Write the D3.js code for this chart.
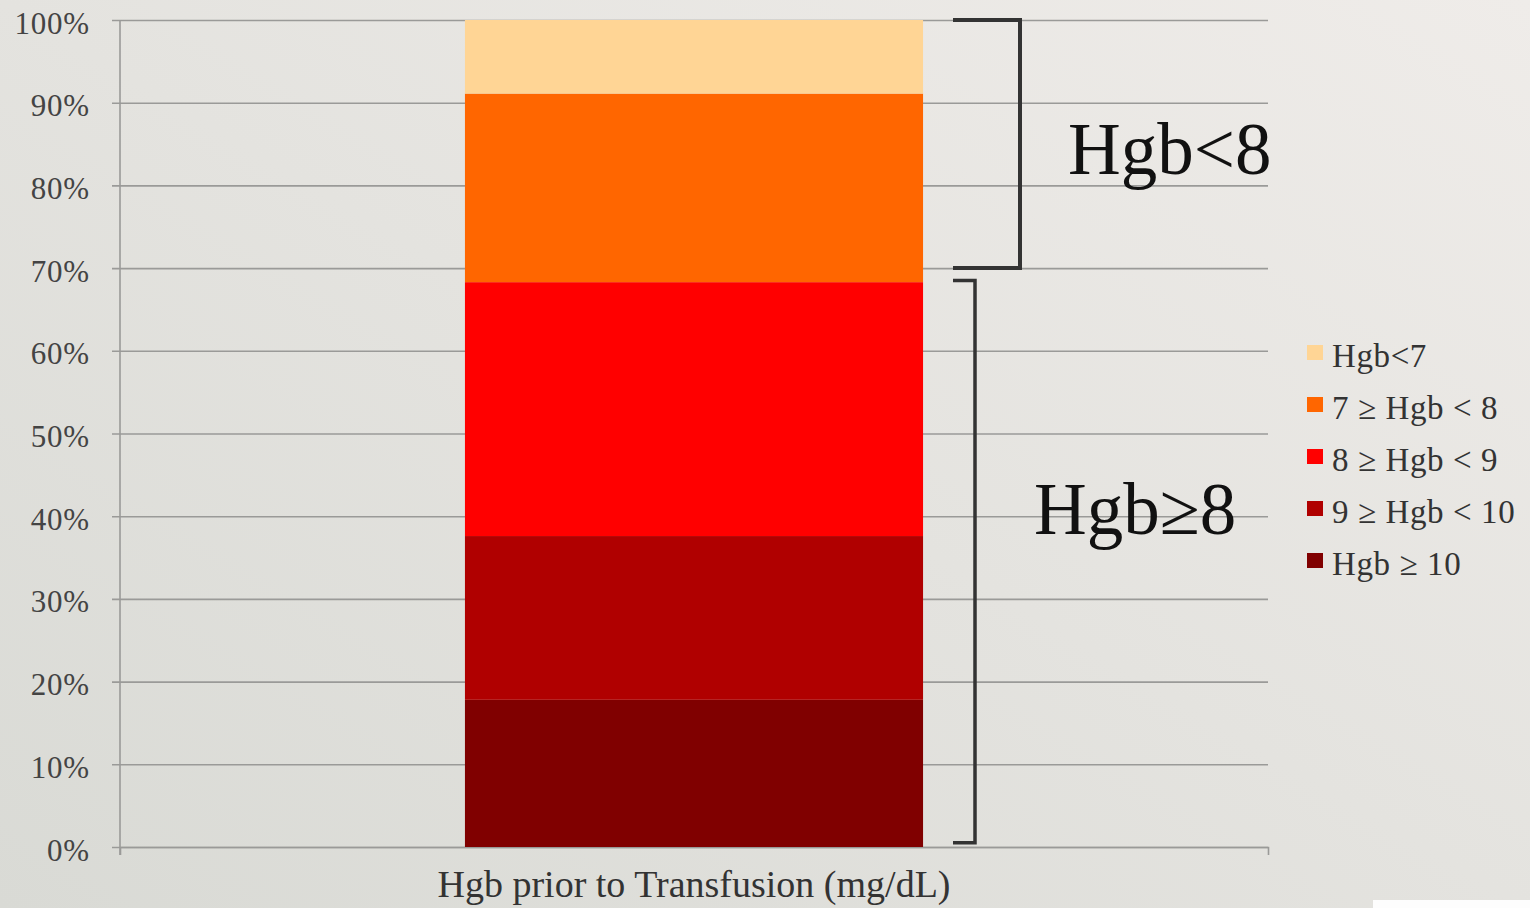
<!DOCTYPE html>
<html>
<head>
<meta charset="utf-8">
<script src="https://cdn.jsdelivr.net/npm/d3@7/dist/d3.min.js"></script>
<style>
  html, body { margin: 0; padding: 0; background: #e5e4e0; }
  svg { display: block; }
</style>
</head>
<body>
<svg id="chart" width="1530" height="908"></svg>
<script>
// Share of transfusions by pre-transfusion haemoglobin band (percent of total)
const categories = ["Hgb prior to Transfusion (mg/dL)"];
const seriesNames = ["Hgb ≥ 10", "9 ≥ Hgb < 10", "8 ≥ Hgb < 9", "7 ≥ Hgb < 8", "Hgb<7"];
const seriesValues = [17.8, 19.8, 30.7, 22.8, 8.9];
const seriesColors = ["#800000", "#b00000", "#ff0000", "#ff6600", "#ffd595"];
const yTicks = [0, 10, 20, 30, 40, 50, 60, 70, 80, 90, 100];
// Grouping brackets drawn to the right of the bar (percent range)
const groupLabels = ["Hgb<8", "Hgb≥8"];
const groupFrom = [70, 0.5];
const groupTo = [100, 68.5];

const svg = d3.select("#chart");
const W = 1530, H = 908;
const serif = "'Liberation Serif', 'DejaVu Serif', serif";

// Background
const defs = svg.append("defs");
const bg = defs.append("linearGradient").attr("id", "bg")
  .attr("x1", "0").attr("y1", "1").attr("x2", "1").attr("y2", "0");
bg.append("stop").attr("offset", "0%").attr("stop-color", "#d9dad5");
bg.append("stop").attr("offset", "50%").attr("stop-color", "#e4e3df");
bg.append("stop").attr("offset", "100%").attr("stop-color", "#efece9");
svg.append("rect").attr("width", W).attr("height", H).attr("fill", "url(#bg)");
svg.append("rect").attr("x", 1373).attr("y", 900).attr("width", 157).attr("height", 8).attr("fill", "#fdfdfd");

const plot = { left: 120, right: 1268, top: 20, bottom: 847 };

const x = d3.scaleBand().domain(categories)
  .range([plot.left, plot.right]).paddingInner(0).paddingOuter(0.753);
const y = d3.scaleLinear().domain([0, 100]).range([plot.bottom, plot.top]);

// Gridlines + y axis labels
const yAxis = d3.axisLeft(y).tickValues(yTicks)
  .tickSize(-(plot.right - plot.left)).tickSizeOuter(0).tickPadding(30)
  .tickFormat(d => d + "%");
const yg = svg.append("g").attr("transform", `translate(${plot.left},0)`).call(yAxis);
yg.select(".domain").remove();
yg.selectAll(".tick line").attr("stroke", "#9a9a98").attr("stroke-width", 1.6)
  .attr("x1", -8);
yg.selectAll(".tick text").attr("font-family", serif).attr("font-size", 31)
  .attr("letter-spacing", 0.8)
  .attr("fill", "#444").attr("dy", "0.42em");

// Vertical axis line
svg.append("line").attr("x1", plot.left).attr("x2", plot.left)
  .attr("y1", plot.top).attr("y2", plot.bottom + 8)
  .attr("stroke", "#9a9a98").attr("stroke-width", 1.6);

// Bottom axis end ticks
const xAxis = d3.axisBottom(x).tickSize(0).tickSizeOuter(8).tickPadding(0);
const xg = svg.append("g").attr("transform", `translate(0,${plot.bottom})`).call(xAxis);
xg.select(".domain").attr("stroke", "#9a9a98").attr("stroke-width", 1.6);
xg.selectAll(".tick text").attr("font-family", serif).attr("font-size", 38)
  .attr("fill", "#333").attr("y", 50).attr("dy", 0);

// Stacked bar
const stackRow = {};
seriesNames.forEach((n, i) => stackRow[n] = seriesValues[i]);
const stacked = d3.stack().keys(seriesNames)([stackRow]);
svg.append("g").selectAll("rect").data(stacked).join("rect")
  .attr("x", x(categories[0]))
  .attr("width", x.bandwidth())
  .attr("y", d => y(d[0][1]))
  .attr("height", d => y(d[0][0]) - y(d[0][1]))
  .attr("fill", (d, i) => seriesColors[i]);

// Group brackets
const bracketX0 = 953;
const bracketX1 = [1020, 975];
const bracketW = [4, 3.5];
groupLabels.forEach((lab, i) => {
  const y0 = y(groupTo[i]), y1 = y(groupFrom[i]);
  svg.append("path")
    .attr("d", `M${bracketX0},${y0}H${bracketX1[i]}V${y1}H${bracketX0}`)
    .attr("fill", "none").attr("stroke", "#333").attr("stroke-width", bracketW[i]);
});
svg.append("text").attr("x", 1068).attr("y", 174)
  .attr("font-family", serif).attr("font-size", 73).attr("fill", "#111")
  .text(groupLabels[0]);
svg.append("text").attr("x", 1034).attr("y", 534)
  .attr("font-family", serif).attr("font-size", 73).attr("fill", "#111")
  .text(groupLabels[1]);

// Legend (top band first)
const legendOrder = d3.range(seriesNames.length).reverse();
const lg = svg.append("g").attr("transform", "translate(1307,345)");
const rows = lg.selectAll("g").data(legendOrder).join("g")
  .attr("transform", (d, i) => `translate(0,${i * 52})`);
rows.append("rect").attr("width", 16).attr("height", 15)
  .attr("fill", d => seriesColors[d]);
rows.append("text").attr("x", 25).attr("y", 22)
  .attr("font-family", serif).attr("font-size", 33).attr("fill", "#333")
  .attr("letter-spacing", 0.6)
  .text(d => seriesNames[d]);
</script>
</body>
</html>
